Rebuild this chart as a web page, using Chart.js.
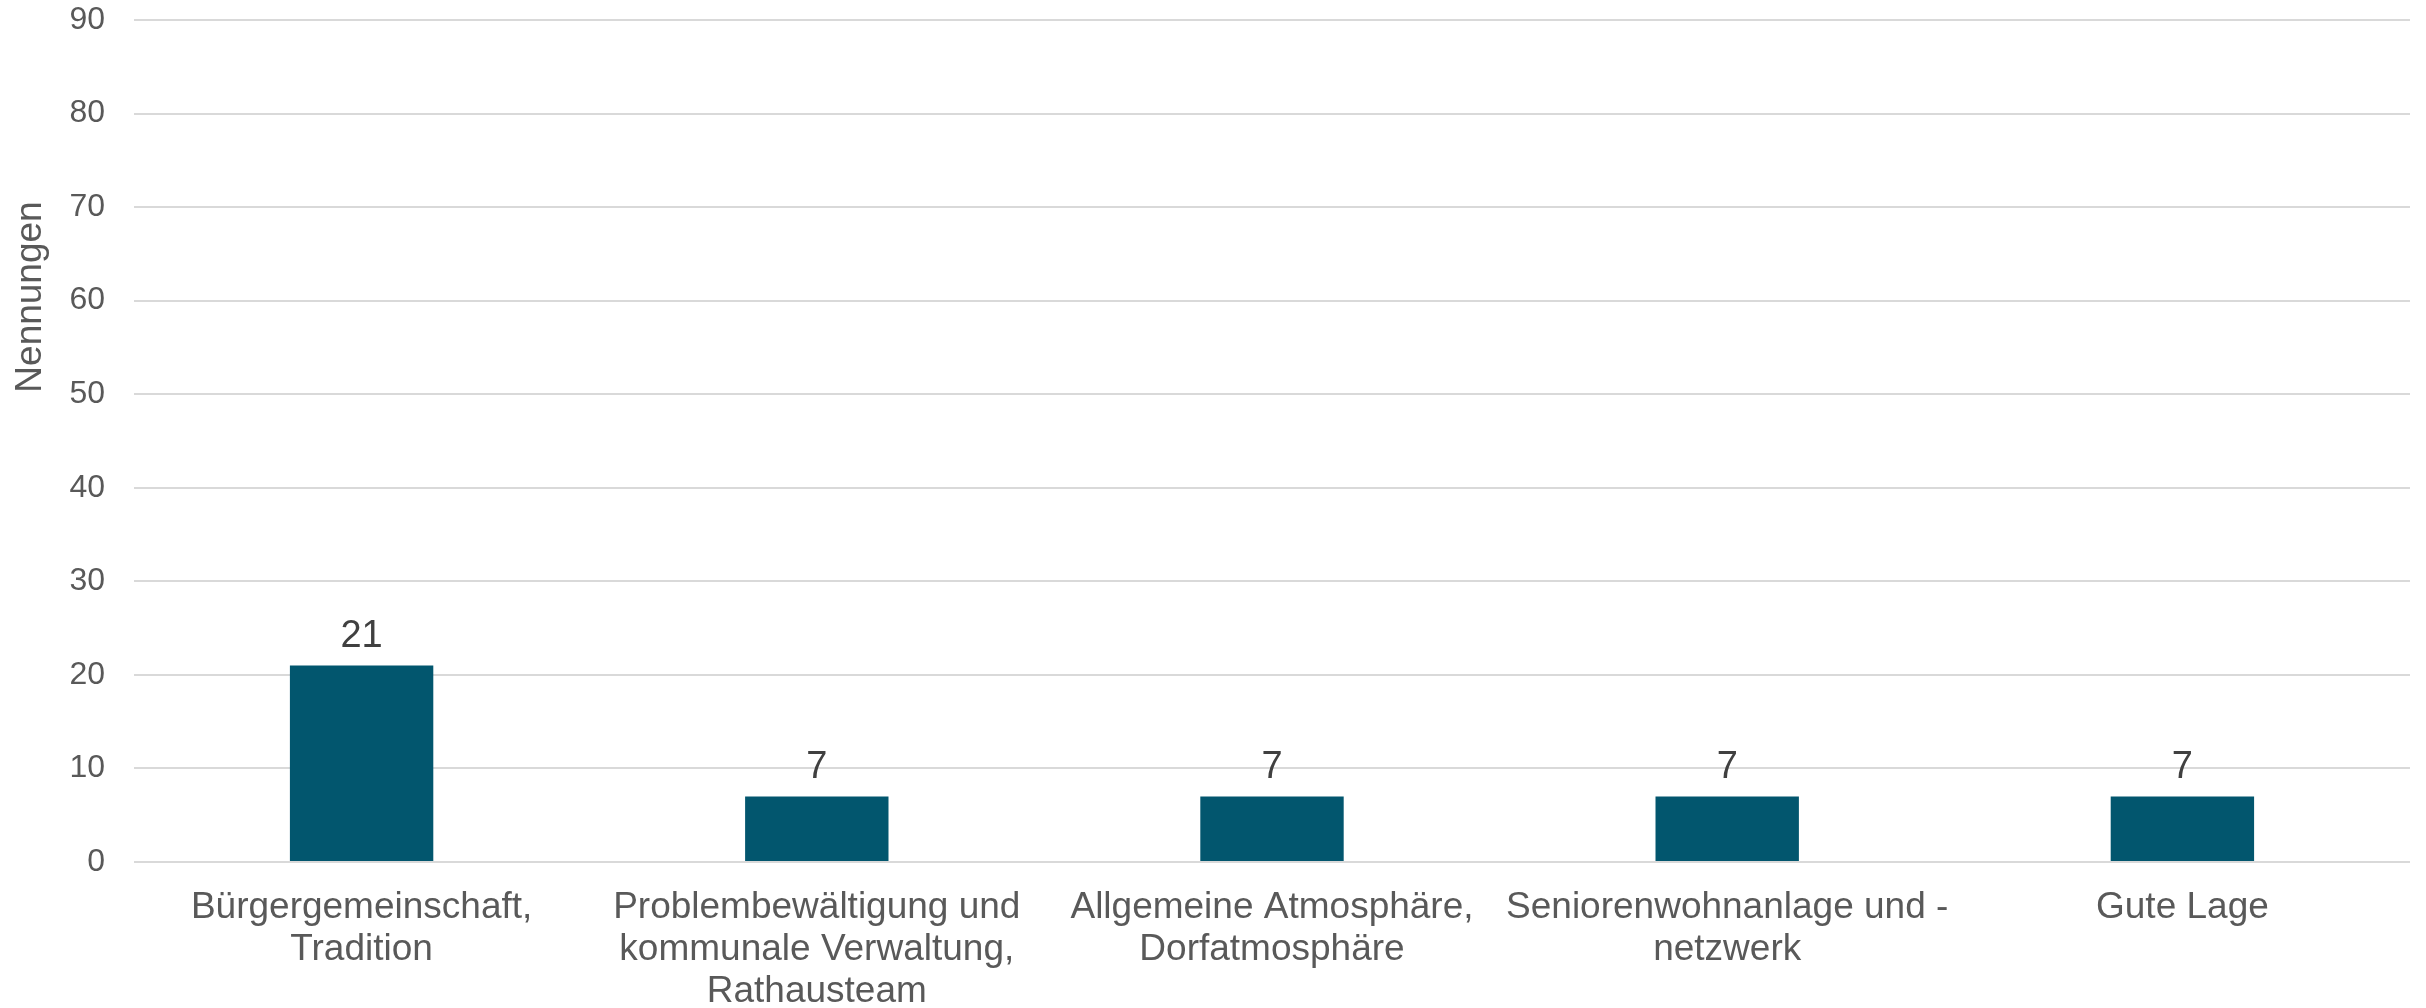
<!DOCTYPE html>
<html>
<head>
<meta charset="utf-8">
<script src="https://cdn.jsdelivr.net/npm/chart.js@4"></script>
<style>
  html, body { margin: 0; padding: 0; background: #ffffff; }
  canvas { display: block; }
</style>
</head>
<body>
<canvas id="chart" width="2426" height="1008"></canvas>
<script>
// Data
const categories = [
  ["Bürgergemeinschaft,", "Tradition"],
  ["Problembewältigung und", "kommunale Verwaltung,", "Rathausteam"],
  ["Allgemeine Atmosphäre,", "Dorfatmosphäre"],
  ["Seniorenwohnanlage und -", "netzwerk"],
  ["Gute Lage"]
];
const mentions = [21, 7, 7, 7, 7];
const yAxisTitle = "Nennungen";
const yMin = 0;
const yMax = 90;
const yStep = 10;

const barColor = "#02566e";
const labelGrey = "#595959";
const valueGrey = "#404040";
const gridGrey = "#d9d9d9";
const fontFamily = "'Liberation Sans', Arial, sans-serif";

// value labels above bars
const valueLabels = {
  id: "valueLabels",
  afterDatasetsDraw(chart) {
    const ctx = chart.ctx;
    const meta = chart.getDatasetMeta(0);
    ctx.save();
    ctx.font = "38px " + fontFamily;
    ctx.fillStyle = valueGrey;
    ctx.textAlign = "center";
    ctx.textBaseline = "alphabetic";
    meta.data.forEach((bar, i) => {
      ctx.fillText(String(chart.data.datasets[0].data[i]), bar.x, bar.y - 19);
    });
    ctx.restore();
  }
};

// axis title, placed like the original (upper part of the axis)
const axisTitle = {
  id: "axisTitle",
  afterDraw(chart) {
    const ctx = chart.ctx;
    ctx.save();
    ctx.font = "37px " + fontFamily;
    ctx.fillStyle = labelGrey;
    ctx.textAlign = "center";
    ctx.textBaseline = "middle";
    ctx.translate(31, 297);
    ctx.rotate(-Math.PI / 2);
    ctx.fillText(yAxisTitle, 0, 0);
    ctx.restore();
  }
};

new Chart(document.getElementById("chart").getContext("2d"), {
  type: "bar",
  data: {
    labels: categories,
    datasets: [
      {
        label: yAxisTitle,
        data: mentions,
        backgroundColor: barColor,
        borderWidth: 0,
        categoryPercentage: 1,
        barPercentage: 0.315
      }
    ]
  },
  options: {
    responsive: false,
    maintainAspectRatio: false,
    animation: false,
    layout: {
      padding: { top: 20, right: 16, left: 0, bottom: 0 }
    },
    plugins: {
      legend: { display: false },
      tooltip: { enabled: false }
    },
    scales: {
      x: {
        grid: { display: false, drawTicks: false },
        border: { display: false },
        ticks: {
          color: labelGrey,
          font: { family: fontFamily, size: 37, lineHeight: 1.13 },
          padding: 25,
          maxRotation: 0,
          autoSkip: false
        },
        afterFit(scale) {
          scale.height = 146;
        }
      },
      y: {
        min: yMin,
        max: yMax,
        grid: { color: gridGrey, lineWidth: 2, drawTicks: false },
        border: { display: false },
        ticks: {
          stepSize: yStep,
          color: labelGrey,
          font: { family: fontFamily, size: 32 },
          padding: 29
        },
        afterFit(scale) {
          scale.width = 134;
          scale.paddingTop = 0;
          scale.paddingBottom = 0;
        }
      }
    }
  },
  plugins: [valueLabels, axisTitle]
});
</script>
</body>
</html>
